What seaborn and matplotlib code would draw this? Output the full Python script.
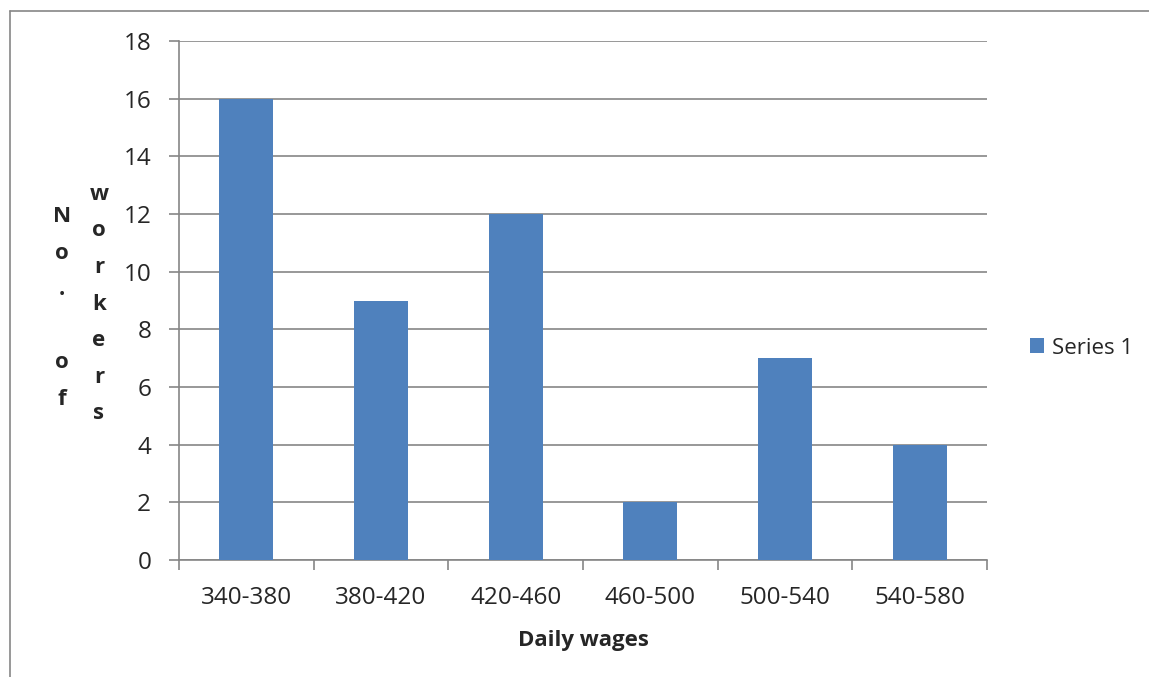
import matplotlib
matplotlib.use("Agg")
import matplotlib.pyplot as plt
import seaborn as sns
import pandas as pd
from matplotlib.lines import Line2D
from matplotlib.patches import Patch

categories = ["340-380", "380-420", "420-460", "460-500", "500-540", "540-580"]
workers = [16, 9, 12, 2, 7, 4]
y_ticks = [0, 2, 4, 6, 8, 10, 12, 14, 16, 18]

sns.set_theme(style="white")
plt.rcParams['font.family'] = ['Open Sans', 'DejaVu Sans']

df = pd.DataFrame({"wages": categories, "workers": workers})

fig = plt.figure(figsize=(11.49, 6.77), dpi=100)
ax = fig.add_axes([179/1149, 1 - 560/677, (987-179)/1149, (560-41)/677])

sns.barplot(data=df, x="wages", y="workers", color="#4F81BD", width=0.4,
            saturation=1, ax=ax, zorder=3, linewidth=0, edgecolor="none")

grid_c = "#868686"
ax.set_ylim(0, 18)
ax.set_xlim(-0.5, 5.5)
ax.set_yticks(y_ticks)
ax.set_yticklabels([str(t) for t in y_ticks], fontsize=17.5)
ax.yaxis.grid(True, color=grid_c, linewidth=1.2, zorder=0)
ax.set_axisbelow(True)
for s in ["top", "right"]:
    ax.spines[s].set_visible(False)
for s in ["left", "bottom"]:
    ax.spines[s].set_color(grid_c)
    ax.spines[s].set_linewidth(1.2)
ax.tick_params(axis="y", which="major", left=True, length=7, width=1.2, color=grid_c, pad=13)
ax.tick_params(axis="x", which="major", bottom=False, length=0, pad=19)
ax.set_xticks([i - 0.5 for i in range(len(categories) + 1)], minor=True)
ax.tick_params(axis="x", which="minor", bottom=True, length=7, width=1.2, color=grid_c)
for lab in ax.get_xticklabels():
    lab.set_fontsize(17.5)

ax.set_xlabel("Daily wages", fontsize=16, fontweight="bold", labelpad=14)
ax.set_ylabel("")

# stacked y-label letters
fig.text(62/1149, 1 - 308/677, "N\no\n.\n \no\nf", fontsize=16, fontweight="bold",
         ha="center", va="center", linespacing=1.97)
fig.text(99/1149, 1 - 304/677, "w\no\nr\nk\ne\nr\ns", fontsize=16, fontweight="bold",
         ha="center", va="center", linespacing=1.97)

handles = [Patch(facecolor="#4F81BD", edgecolor="none", label="Series 1")]
fig.legend(handles=handles, loc="center left", bbox_to_anchor=(1030/1149, 1 - 348/677),
           frameon=False, fontsize=16, handlelength=0.65, handleheight=0.65,
           handletextpad=0.35, borderpad=0, borderaxespad=0)

# outer border (left and top)
fig.add_artist(Line2D([10/1149, 10/1149], [0, 1 - 11/677], transform=fig.transFigure,
                      color=grid_c, linewidth=1.2))
fig.add_artist(Line2D([10/1149, 1], [1 - 11/677, 1 - 11/677], transform=fig.transFigure,
                      color=grid_c, linewidth=1.2))

fig.savefig("out.png", dpi=100)
